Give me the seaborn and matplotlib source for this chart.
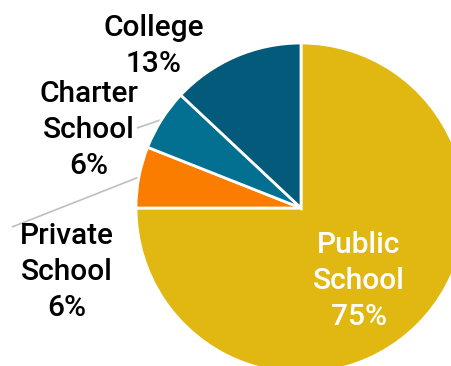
import numpy as np
import matplotlib
matplotlib.use("Agg")
import matplotlib.pyplot as plt
import seaborn as sns

# School type shares (percent)
categories = ["Public\nSchool", "Private\nSchool", "Charter\nSchool", "College"]
shares = [75, 6, 6, 13]
colors = ["#E1B811", "#FA7D00", "#037091", "#045A7A"]

sns.set_theme(style="white")
plt.rcParams["font.family"] = ["Roboto", "DejaVu Sans"]

W, H = 452, 366
fig = plt.figure(figsize=(W / 100, H / 100), dpi=100)
ax = fig.add_axes([0, 0, 1, 1])

cx, cy, R = 301, H - 208, 165
wedges, _ = ax.pie(
    shares, colors=colors, startangle=90, counterclock=False,
    center=(cx, cy), radius=R, frame=True,
    wedgeprops=dict(edgecolor="white", linewidth=2.0),
)
ax.set_xlim(0, W)
ax.set_ylim(0, H)
ax.set_aspect("equal")
ax.axis("off")

# label placement (pixel space, y measured from top)
label_pos = {
    "Public\nSchool": (359, 281, "white"),
    "Private\nSchool": (67, 272, "black"),
    "Charter\nSchool": (89, 130, "black"),
    "College": (154, 46, "black"),
}
for cat, val in zip(categories, shares):
    x, y, c = label_pos[cat]
    ax.text(x, H - y, f"{cat}\n{val}%", ha="center", va="center",
            fontsize=21.5, fontweight="medium", color=c, linespacing=1.38)

# leader lines from wedge rims to outside labels
leader_ends = {"Private\nSchool": (12, 227), "Charter\nSchool": (137, 128)}
for w, cat in zip(wedges, categories):
    if cat in leader_ends:
        mid = np.deg2rad((w.theta1 + w.theta2) / 2)
        px, py = cx + R * np.cos(mid), cy + R * np.sin(mid)
        ex, ey = leader_ends[cat]
        ax.plot([px, ex], [py, H - ey], color="#BFBFBF", lw=1.2,
                solid_capstyle="butt", zorder=0.5)

fig.savefig("out.png", dpi=100)
